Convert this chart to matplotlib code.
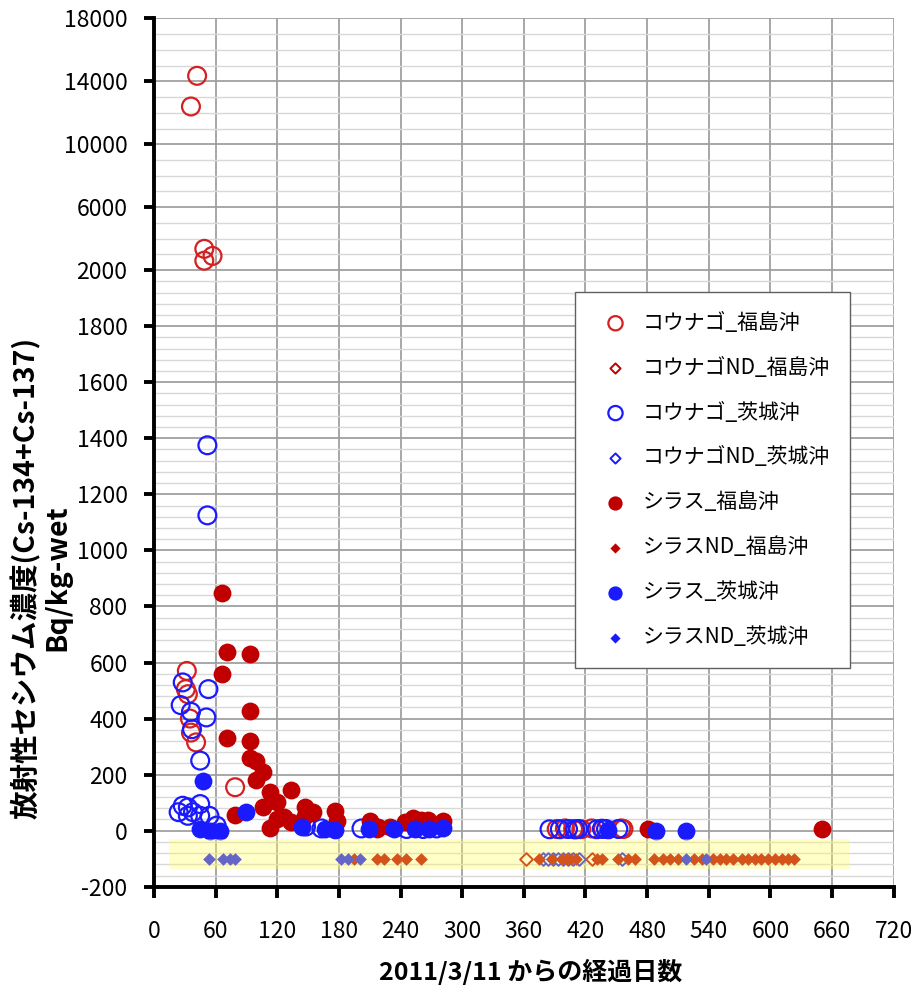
import numpy as np
import matplotlib
matplotlib.use("Agg")
import matplotlib.pyplot as plt
from matplotlib.patches import Rectangle
from matplotlib.ticker import FixedLocator

plt.rcParams['font.family'] = ['Noto Sans CJK JP', 'DejaVu Sans']

# 2011/3/11 からの経過日数 / Bq/kg-wet
kounago_fukushima_day = [36, 42, 49, 57, 49, 32, 31, 33, 35, 36, 41, 79,
                         392, 400, 408, 416, 426, 437, 455, 457]
kounago_fukushima_val = [12400, 14350, 3350, 2900, 2600, 570, 505, 487, 400, 350, 315, 155,
                         6, 8, 6, 5, 8, 6, 8, 6]

kounago_fukushima_nd_day = [362, 426]

kounago_ibaraki_day = [52, 52, 28, 53, 26, 36, 51, 37, 45, 24, 28, 33, 38, 45, 45, 33, 54, 61,
                       148, 163, 202, 246, 262, 275,
                       385, 395, 403, 410, 413, 431, 436, 440, 452]
kounago_ibaraki_val = [1375, 1125, 529, 505, 448, 424, 404, 362, 250, 66, 89, 83, 66, 95, 53, 53, 53, 18,
                       15, 8, 8, 6, 6, 8,
                       5, 5, 6, 4, 6, 5, 7, 6, 6]

kounago_ibaraki_nd_day = [379, 384, 388, 393, 398, 403, 408, 414, 456]

shirasu_fukushima_day = [66, 71, 93, 66, 93, 71, 93, 93, 99, 106, 99, 113, 133, 120, 106, 79,
                         120, 127, 133, 113, 147, 155, 147, 176, 178, 210, 217, 218, 230,
                         244, 252, 260, 267, 281, 481, 650]
shirasu_fukushima_val = [847, 639, 630, 558, 428, 329, 319, 258, 250, 208, 181, 139, 146, 101, 83, 56,
                         42, 48, 30, 8, 83, 68, 53, 71, 36, 36, 5, 12, 12,
                         30, 44, 39, 39, 36, 6, 6]

shirasu_fukushima_nd_day = [195, 217, 224, 237, 245, 260, 375, 387, 397, 402, 406, 411, 431, 436,
                            452, 461, 468, 487, 495, 502, 510, 526, 533, 544, 551, 557, 564, 572,
                            578, 585, 591, 598, 604, 611, 617, 623]

shirasu_ibaraki_day = [48, 90, 45, 55, 64, 144, 166, 176, 209, 234, 254, 268, 281, 442, 489, 518]
shirasu_ibaraki_val = [178, 68, 6, 0, 0, 12, 6, 2, 6, 6, 6, 6, 8, 2, 0, 0]

shirasu_ibaraki_nd_day = [54, 67, 74, 79, 182, 189, 201, 518, 537]

ND_LEVEL = -100

y_major = [-200, 0, 200, 400, 600, 800, 1000, 1200, 1400, 1600, 1800, 2000,
           6000, 10000, 14000, 18000]
x_major = list(range(0, 721, 60))

RED = '#c00000'
BLUE = '#1a1aff'

# axis above 2000 is compressed
K = 0.05613


def fwd(y):
    y = np.asarray(y, dtype=float)
    return np.where(y <= 2000, y, 2000 + (y - 2000) * K)


def inv(t):
    t = np.asarray(t, dtype=float)
    return np.where(t <= 2000, t, 2000 + (t - 2000) / K)


fig = plt.figure(figsize=(9.11, 9.89), dpi=100)
ax = fig.add_axes([0.169, 0.1034, 0.812, 0.878])
ax.set_yscale('function', functions=(fwd, inv))

circle_s = 165
diamond_s = 42
ax.scatter(kounago_fukushima_day, kounago_fukushima_val, s=circle_s, marker='o',
           facecolors='none', edgecolors='#d42020', linewidths=1.6, label='コウナゴ_福島沖', zorder=3)
ax.scatter(kounago_fukushima_nd_day, [ND_LEVEL] * len(kounago_fukushima_nd_day), s=diamond_s, marker='D',
           facecolors='white', edgecolors=RED, linewidths=1.4, label='コウナゴND_福島沖', zorder=3)
ax.scatter(kounago_ibaraki_day, kounago_ibaraki_val, s=circle_s, marker='o',
           facecolors='none', edgecolors=BLUE, linewidths=1.6, label='コウナゴ_茨城沖', zorder=3)
ax.scatter(kounago_ibaraki_nd_day, [ND_LEVEL] * len(kounago_ibaraki_nd_day), s=diamond_s, marker='D',
           facecolors='white', edgecolors=BLUE, linewidths=1.4, label='コウナゴND_茨城沖', zorder=3)
ax.scatter(shirasu_fukushima_day, shirasu_fukushima_val, s=circle_s, marker='o',
           color=RED, linewidths=0, label='シラス_福島沖', zorder=3)
ax.scatter(shirasu_fukushima_nd_day, [ND_LEVEL] * len(shirasu_fukushima_nd_day), s=diamond_s, marker='D',
           color=RED, linewidths=0, label='シラスND_福島沖', zorder=3)
ax.scatter(shirasu_ibaraki_day, shirasu_ibaraki_val, s=circle_s, marker='o',
           color=BLUE, linewidths=0, label='シラス_茨城沖', zorder=3)
ax.scatter(shirasu_ibaraki_nd_day, [ND_LEVEL] * len(shirasu_ibaraki_nd_day), s=diamond_s, marker='D',
           color=BLUE, linewidths=0, label='シラスND_茨城沖', zorder=3)

# ND band
ax.add_patch(Rectangle((15, -137), 662, 107, facecolor='#ffff55', alpha=0.33,
                       edgecolor='none', zorder=4))

ax.set_xlim(0, 720)
ax.set_ylim(-200, 18000)
ax.set_xticks(x_major)
ax.yaxis.set_major_locator(FixedLocator(y_major))
minor = [v for v in range(-200, 2001, 40) if v not in y_major] + \
        [v for v in range(3000, 18000, 1000) if v not in y_major]
ax.yaxis.set_minor_locator(FixedLocator(minor))
ax.set_yticklabels([str(v) for v in y_major])

ax.grid(True, which='major', axis='both', color='#a0a0a0', linewidth=1.3, zorder=0)
ax.grid(True, which='minor', axis='y', color='#d8d8d8', linewidth=1.0, zorder=0)
ax.set_axisbelow(True)

for side in ['top', 'right']:
    ax.spines[side].set_visible(False)
for side in ['left', 'bottom']:
    ax.spines[side].set_linewidth(2.8)
    ax.spines[side].set_color('black')

ax.tick_params(axis='y', which='major', direction='out', length=7, width=2.8, pad=12, labelsize=16.5)
ax.tick_params(axis='x', which='major', direction='out', length=8, width=2.8, pad=16, labelsize=16.5)
ax.tick_params(which='minor', length=0)

fig.text(0.045, 0.4156, '放射性セシウム濃度(Cs-134+Cs-137)\nBq/kg-wet', rotation=90,
         ha='center', va='center', multialignment='center', fontsize=20.5, fontweight='bold',
         linespacing=1.15)
fig.text(0.582, 0.017, '2011/3/11 からの経過日数', ha='center', va='center',
         fontsize=18, fontweight='bold')

leg = ax.legend(loc='upper left', bbox_to_anchor=(0.569, 0.685), fontsize=15,
                frameon=True, fancybox=False, edgecolor='#606060', framealpha=1,
                scatterpoints=1, labelspacing=1.1, borderpad=0.95, handletextpad=0.3,
                borderaxespad=0, handlelength=2.0, markerscale=0.8)
leg.get_frame().set_linewidth(1.0)
leg.set_zorder(5)

fig.savefig('out.png', dpi=100)
